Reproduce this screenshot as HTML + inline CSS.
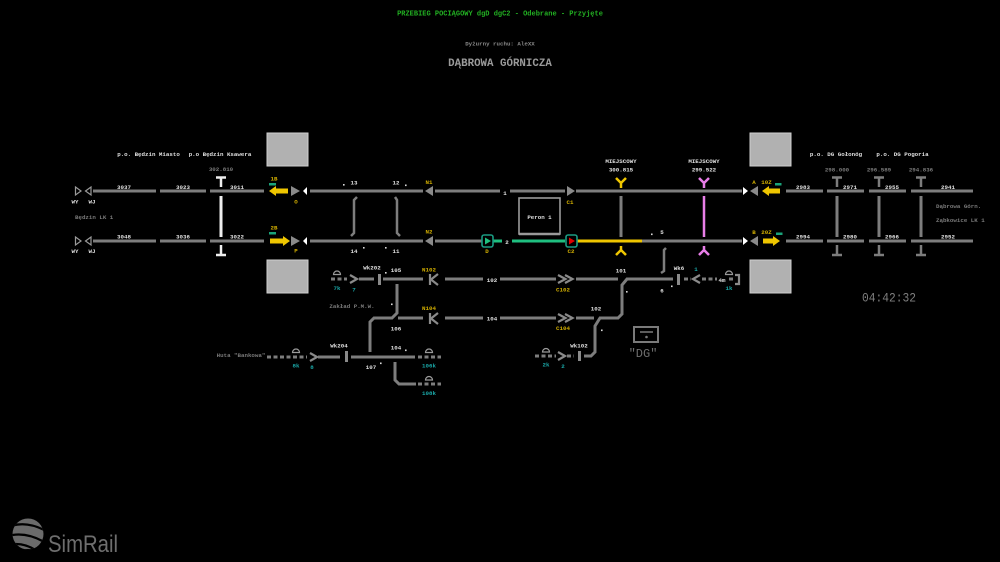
<!DOCTYPE html>
<html><head><meta charset="utf-8"><style>
html,body{margin:0;padding:0;background:#000;}
svg{display:block}
text{font-family:"Liberation Mono","DejaVu Sans Mono",monospace;font-size:5.8px;text-anchor:middle;font-weight:bold}
.w{fill:#e0e0e0}.y{fill:#d4b000}.c{fill:#1aa8a8}.d{fill:#7a7a7a}
.s{text-anchor:start}
</style></head><body>
<svg width="1000" height="562" viewBox="0 0 1000 562" xmlns="http://www.w3.org/2000/svg">
<rect width="1000" height="562" fill="#000"/>

<!-- header -->
<text x="500" y="15.5" style="font-size:7px;font-weight:bold;fill:#22b022">PRZEBIEG POCIĄGOWY dgD dgC2 - Odebrane - Przyjęte</text>
<text x="500" y="45.5" style="font-size:5.8px;fill:#8a8a8a">Dyżurny ruchu: AleXX</text>
<text x="500" y="66" style="font-size:10.8px;font-weight:bold;fill:#9a9a9a">DĄBROWA GÓRNICZA</text>

<!-- gray boxes -->
<g fill="#b1b1b1" stroke="#d0d0d0" stroke-width="1">
<rect x="267" y="133" width="41" height="33"/>
<rect x="267" y="260" width="41" height="33"/>
<rect x="750" y="133" width="41" height="33"/>
<rect x="750" y="260" width="41" height="33"/>
</g>

<!-- main tracks -->
<g stroke="#7d7d7d" stroke-width="3" fill="none">
<path d="M93 191H156M160 191H206M210 191H264M310 191H423M435 191H500M510 191H565M576 191H742M786 191H823M827 191H864M869 191H906M911 191H973"/>
<path d="M93 241H156M160 241H206M210 241H264M310 241H423M435 241H482M642 241H742M786 241H823M827 241H864M869 241H906M911 241H973"/>
<path d="M621 196V237M837 196V237M879 196V237M921 196V237"/>
</g>
<g stroke="#7d7d7d" stroke-width="2.5" fill="none">
<path d="M832 177.5H842M837 177V187M874 177.5H884M879 177V187M916 177.5H926M921 177V187"/>
<path d="M837 245V255M832 255H842M879 245V255M874 255H884M921 245V255M916 255H926"/>
<polyline points="357,197 354,200 354,233 351,236"/>
<polyline points="395,197 397,200 397,233 400,236"/>
<polyline points="666,248 664,250 664,271 661,273"/>
</g>
<g stroke="#eeeeee" stroke-width="3" fill="none">
<path d="M221 196V237"/>
</g>
<g stroke="#eeeeee" stroke-width="2.5" fill="none">
<path d="M216 177.5H226M221 177V187M221 245V255M216 255H226"/>
</g>
<path d="M493 241H502M512 241H565" stroke="#1fbf80" stroke-width="3"/>
<path d="M577 241H642" stroke="#efc600" stroke-width="3"/>
<g stroke="#e87ee8" stroke-width="2.5" fill="none">
<path d="M704 196V237"/>
<path d="M699 178L704 183L709 178M704 183V188"/>
<path d="M704 246V251M699 255L704 250L709 255"/>
</g>
<g stroke="#efc600" stroke-width="2.5" fill="none">
<path d="M616 178L621 183L626 178M621 183V188"/>
<path d="M621 246V251M616 255L621 250L626 255"/>
</g>

<!-- left end signals -->
<g stroke="#9a9a9a" stroke-width="1.2" fill="none">
<polygon points="75.5,187 81,191 75.5,195"/><polygon points="91,187 85.5,191 91,195"/>
<polygon points="75.5,237 81,241 75.5,245"/><polygon points="91,237 85.5,241 91,245"/>
</g>

<!-- signals left group -->
<polygon points="269,191 276,186 276,196" fill="#efc600"/><rect x="276" y="188.5" width="12" height="5" fill="#efc600"/>
<rect x="269" y="183" width="7" height="2.5" fill="#1aa37a"/>
<polygon points="291,186 300,191 291,196" fill="#8a8a8a"/>
<polygon points="303,191 307,187 307,195" fill="#fff"/>
<rect x="270" y="238.5" width="13" height="5" fill="#efc600"/><polygon points="283,236 290,241 283,246" fill="#efc600"/>
<rect x="269" y="232" width="7" height="2.5" fill="#1aa37a"/>
<polygon points="291,236 300,241 291,246" fill="#8a8a8a"/>
<polygon points="303,241 307,237 307,245" fill="#fff"/>

<polygon points="425,191 433,186 433,196" fill="#8a8a8a"/>
<polygon points="425,241 433,236 433,246" fill="#8a8a8a"/>
<polygon points="567,186 575,191 567,196" fill="#8a8a8a"/>

<rect x="482" y="235" width="11" height="12" rx="2" fill="#000" stroke="#1a9c82" stroke-width="1.6"/>
<polygon points="485,237.5 491,241 485,244.5" fill="#1fc07f"/>
<rect x="566" y="235" width="11" height="12" rx="2" fill="#000" stroke="#1a9c82" stroke-width="1.6"/>
<polygon points="569,237.5 575,241 569,244.5" fill="#e00000"/>

<rect x="519" y="198" width="41" height="36" fill="none" stroke="#9a9a9a" stroke-width="1.6"/>
<path d="M519 234H560" stroke="#9a9a9a" stroke-width="2.5"/>
<text x="539.5" y="219" class="w">Peron 1</text>

<!-- right signals -->
<polygon points="743,187 748,191 743,195" fill="#fff"/>
<polygon points="750,191 758,186 758,196" fill="#8a8a8a"/>
<polygon points="762,191 769,186 769,196" fill="#efc600"/><rect x="769" y="188.5" width="11" height="5" fill="#efc600"/>
<rect x="775" y="183" width="6.5" height="2.5" fill="#1aa37a"/>
<polygon points="743,237 748,241 743,245" fill="#fff"/>
<polygon points="750,241 758,236 758,246" fill="#8a8a8a"/>
<rect x="763" y="238.5" width="10" height="5" fill="#efc600"/><polygon points="773,236 780,241 773,246" fill="#efc600"/>
<rect x="776" y="232.5" width="6.5" height="2.5" fill="#1aa37a"/>

<!-- lower tracks -->
<g stroke="#7d7d7d" stroke-width="3" fill="none">
<path d="M359 279H374M383 279H423M445 279H483M500 279H556M576 279H618"/>
<path d="M398 318H423M445 318H483M500 318H556M576 318H594"/>
<path d="M397 284V313L392 318H374L370 322V352"/>
<path d="M584 356H591L595 352V326L600 318H618L622 314V285L627 279H673"/>
<path d="M318 357H340M351 357H415"/>
<path d="M395 362V380L399 384H416"/>
</g>
<g stroke="#7d7d7d" stroke-width="3" fill="none" stroke-dasharray="4 2.5">
<path d="M331 279H347"/>
<path d="M267 357H307"/>
<path d="M418 357H441"/>
<path d="M418 384H441"/>
<path d="M535 356H556"/>
<path d="M567 356H574"/>
<path d="M684 279H691"/>
<path d="M702 279H717"/>
<path d="M729 279H735"/>
</g>
<g stroke="#8a8a8a" stroke-width="2.2" fill="none">
<polyline points="350,275 357,279 350,283"/>
<polyline points="310,353 317,357 310,361"/>
<polyline points="558,352 565,356 558,360"/>
<polyline points="700,275 693,279 700,283"/>
<polyline points="558,275 565.5,279 558,283"/><polyline points="565,275 572.5,279 565,283"/>
<polyline points="558,314 565.5,318 558,322"/><polyline points="565,314 572.5,318 565,322"/>
<path d="M430 274V285"/><polyline points="438,274 431,279.5 438,285"/>
<path d="M430 313V324"/><polyline points="438,313 431,318.5 438,324"/>
<path d="M735 275H739V284H735"/>
</g>
<g fill="#8a8a8a">
<rect x="378" y="274" width="3" height="11"/>
<rect x="677" y="274" width="3" height="11"/>
<rect x="345" y="351" width="3" height="11"/>
<rect x="578" y="351" width="3" height="10"/>
</g>
<g stroke="#9a9a9a" stroke-width="1.2" fill="none">
<path d="M333.5 274.5A3.5 3.5 0 0 1 340.5 274.5Z"/>
<path d="M292.5 352.5A3.5 3.5 0 0 1 299.5 352.5Z"/>
<path d="M425.5 352.5A3.5 3.5 0 0 1 432.5 352.5Z"/>
<path d="M425.5 380A3.5 3.5 0 0 1 432.5 380Z"/>
<path d="M542.5 352A3.5 3.5 0 0 1 549.5 352Z"/>
<path d="M725.5 274.5A3.5 3.5 0 0 1 732.5 274.5Z"/>
</g>

<rect x="634" y="327" width="24" height="15" fill="none" stroke="#7a7a7a" stroke-width="2"/>
<path d="M640 332H653" stroke="#7a7a7a" stroke-width="1.5"/>
<circle cx="646.5" cy="337" r="1.3" fill="#7a7a7a"/>
<text x="643" y="357" style="font-size:12px;font-weight:normal;fill:#707070">"DG"</text>

<g fill="#dadada">
<rect x="343" y="184" width="1.6" height="1.6"/>
<rect x="405" y="184.5" width="1.6" height="1.6"/>
<rect x="363" y="247" width="1.6" height="1.6"/>
<rect x="385" y="247" width="1.6" height="1.6"/>
<rect x="651" y="233.5" width="1.6" height="1.6"/>
<rect x="385" y="272" width="1.6" height="1.6"/>
<rect x="391" y="303.5" width="1.6" height="1.6"/>
<rect x="405" y="349.5" width="1.6" height="1.6"/>
<rect x="380" y="362.5" width="1.6" height="1.6"/>
<rect x="626" y="291" width="1.6" height="1.6"/>
<rect x="601" y="329.5" width="1.6" height="1.6"/>
<rect x="671" y="285.5" width="1.6" height="1.6"/>
</g>

<text x="148.5" y="156" class="w">p.o. Będzin Miasto</text>
<text x="220" y="156" class="w">p.o Będzin Ksawera</text>
<text x="221" y="171" class="d">302.810</text>
<text x="124" y="189" class="w">3037</text>
<text x="183" y="189" class="w">3023</text>
<text x="237" y="189" class="w">3011</text>
<text x="124" y="238.5" class="w">3048</text>
<text x="183" y="238.5" class="w">3036</text>
<text x="237" y="238.5" class="w">3022</text>
<text x="75" y="203.5" class="w">WY</text>
<text x="92" y="203.5" class="w">WJ</text>
<text x="75" y="253" class="w">WY</text>
<text x="92" y="253" class="w">WJ</text>
<text x="75" y="219" class="d s">Będzin LK 1</text>
<text x="274" y="180.5" class="y">1B</text>
<text x="296" y="203.5" class="y">O</text>
<text x="274" y="229.5" class="y">2B</text>
<text x="296" y="252.5" class="y">P</text>

<text x="354" y="184.5" class="w">13</text>
<text x="396" y="184.5" class="w">12</text>
<text x="429" y="184" class="y">N1</text>
<text x="505" y="195" class="w">1</text>
<text x="570" y="204" class="y">C1</text>
<text x="429" y="233.5" class="y">N2</text>
<text x="354" y="253" class="w">14</text>
<text x="396" y="253" class="w">11</text>
<text x="507" y="244" class="w">2</text>
<text x="487" y="253" class="y">D</text>
<text x="571" y="253" class="y">C2</text>
<text x="662" y="234" class="w">5</text>
<text x="621" y="163" class="w">MIEJSCOWY</text>
<text x="621" y="171.5" class="w">300.815</text>
<text x="704" y="163" class="w">MIEJSCOWY</text>
<text x="704" y="171.5" class="w">299.522</text>

<text x="754" y="184" class="y">A</text>
<text x="766.5" y="184" class="y">10Z</text>
<text x="754" y="234" class="y">B</text>
<text x="766.5" y="234" class="y">20Z</text>
<text x="836" y="156" class="w">p.o. DG Gołonóg</text>
<text x="902.5" y="156" class="w">p.o. DG Pogoria</text>
<text x="837" y="171.5" class="d">298.000</text>
<text x="879" y="171.5" class="d">296.589</text>
<text x="921" y="171.5" class="d">294.836</text>
<text x="803" y="189" class="w">2983</text>
<text x="850" y="189" class="w">2971</text>
<text x="892" y="189" class="w">2955</text>
<text x="948" y="189" class="w">2941</text>
<text x="803" y="238.5" class="w">2994</text>
<text x="850" y="238.5" class="w">2980</text>
<text x="892" y="238.5" class="w">2966</text>
<text x="948" y="238.5" class="w">2952</text>
<text x="936" y="208" class="d s">Dąbrowa Górn.</text>
<text x="936" y="222" class="d s">Ząbkowice LK 1</text>
<text x="889" y="301.5" textLength="54" lengthAdjust="spacingAndGlyphs" style="font-size:12.5px;font-weight:normal;fill:#7e7e7e">04:42:32</text>

<text x="372" y="269.5" class="w">Wk202</text>
<text x="396" y="272" class="w">105</text>
<text x="429" y="271.5" class="y">N102</text>
<text x="337" y="290" class="c">7k</text>
<text x="354" y="291.5" class="c">7</text>
<text x="352" y="308" class="d">Zakład P.M.W.</text>
<text x="429" y="310" class="y">N104</text>
<text x="396" y="330.5" class="w">106</text>
<text x="339" y="347.5" class="w">Wk204</text>
<text x="396" y="349.5" class="w">104</text>
<text x="241" y="357" class="d">Huta "Bankowa"</text>
<text x="296" y="367.5" class="c">8k</text>
<text x="312" y="369" class="c">8</text>
<text x="371" y="369" class="w">107</text>
<text x="429" y="367.5" class="c">106k</text>
<text x="429" y="395" class="c">108k</text>
<text x="492" y="282" class="w">102</text>
<text x="563" y="291.5" class="y">C102</text>
<text x="621" y="272.5" class="w">101</text>
<text x="492" y="320.5" class="w">104</text>
<text x="563" y="330" class="y">C104</text>
<text x="596" y="310.5" class="w">102</text>
<text x="579" y="347.5" class="w">Wk102</text>
<text x="546" y="366.5" class="c">2k</text>
<text x="563" y="368" class="c">2</text>
<text x="679" y="270" class="w">Wk6</text>
<text x="662" y="292.5" class="w">6</text>
<text x="696" y="271" class="c">1</text>
<text x="722" y="282" class="w">4m</text>
<text x="729" y="290" class="c">1k</text>

<g>
<clipPath id="lc"><circle cx="28" cy="534" r="15.5"/></clipPath>
<g clip-path="url(#lc)">
<rect x="10" y="517" width="36" height="36" fill="#6b6b6b"/>
<path d="M8 527 Q26 520 46 531" stroke="#000" stroke-width="2.2" fill="none"/>
<path d="M8 536 Q26 531 46 543" stroke="#000" stroke-width="2.2" fill="none"/>
<path d="M8 545 Q24 541 40 553" stroke="#000" stroke-width="2.2" fill="none"/>
<rect x="10" y="549" width="36" height="6" fill="#000"/>
</g>
<text x="48" y="552" textLength="70" lengthAdjust="spacingAndGlyphs" style="font-family:'Liberation Sans',sans-serif;font-size:24px;font-weight:normal;fill:#6e6e6e;text-anchor:start">SimRail</text>
</g>
</svg>
</body></html>
